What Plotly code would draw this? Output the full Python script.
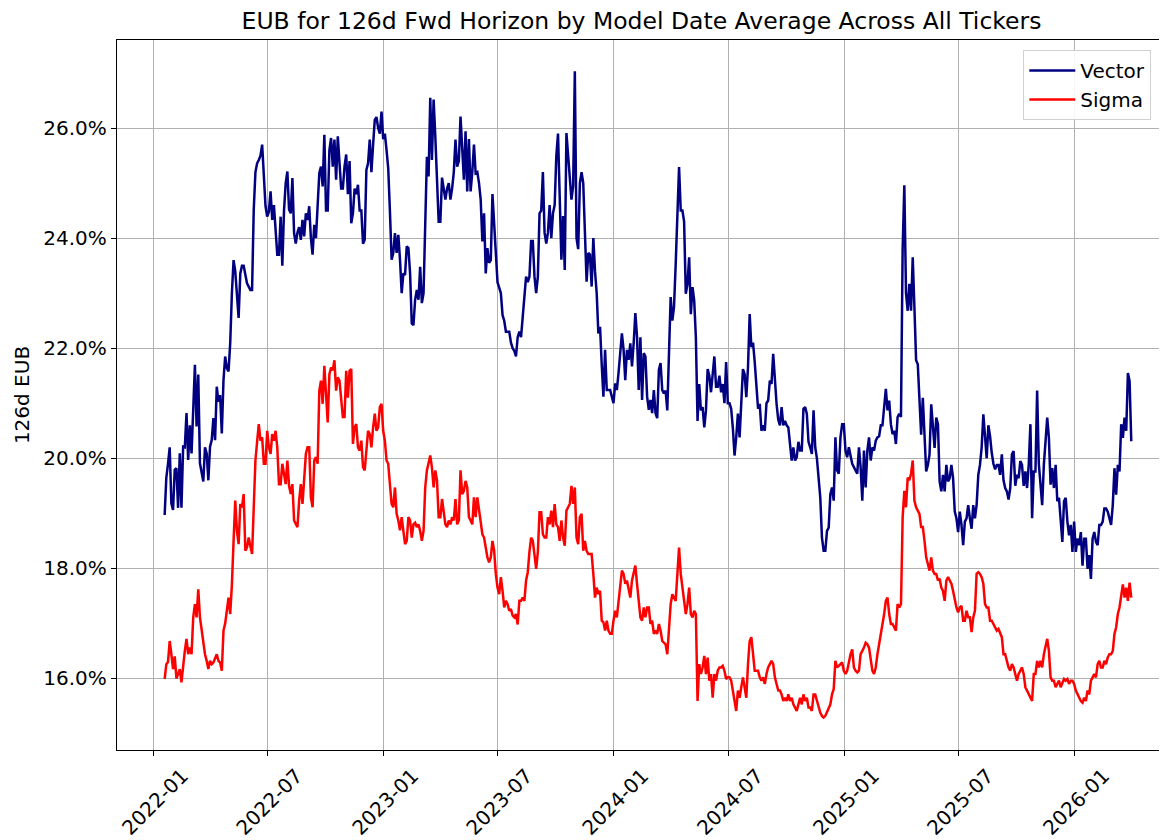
import pandas as pd
import plotly.graph_objects as go

# Values (percent) on a uniform ~64h grid
vector_a = [18.97,19.65,19.9,20.2,19.18,19.06,19.79,19.82,19.1,20.09,19.1,20.21,20.2,20.82,19.97,20.6,20.09,20.82,21.7,20.58,
            21.52,19.91,19.73,19.58,20.2,20.09,19.6,20.21,20.33,20.73,20.33,21.3,21.03,21.15,20.45,21.42,21.85,21.64,21.58,22.09,
            23.0,23.6,23.4,22.9,22.55,23.36,23.5,23.5,23.36,23.18,23.12,23.06,23.06,24.52,25.2,25.36,25.42,25.5,25.7,25.18,
            24.58,24.39,24.48,24.85,24.33,24.6,24.2,23.7,23.7,24.39,23.5,24.5,25.0,25.21,24.52,24.45,25.09,24.09,23.9,24.1,
            24.2,23.97,24.33,24.03,24.45,24.33,24.58,24.0,23.7,24.24,24.0,24.6,25.18,25.3,24.94,25.88,24.5,24.5,25.6,25.82,
            25.3,25.79,25.06,25.85,25.4,24.9,24.9,25.3,25.52,24.8,25.4,24.27,24.45,24.9,24.8,24.97,24.5,24.5,23.9,23.97,
            25.24,25.36,25.79,25.2,25.7,26.15,26.2,26.0,25.9,26.3,25.8,25.9,25.6,25.27,24.5,23.61,23.73,24.09,23.73,24.06,
            23.61,23.0,23.36,23.33,23.85,23.82,23.36,22.45]
vector_b = [22.42,22.88,23.06,22.88,23.48,22.82,23.0,24.52,25.48,25.12,26.55,25.42,26.52,25.85,24.94,24.3,24.3,25.1,24.9,24.7,
            24.9,25.0,24.7,24.9,25.2,25.79,25.3,25.4,26.21,25.55,25.06,25.94,24.85,25.8,24.85,25.2,25.7,25.18,25.2,25.0,
            24.7,23.94,24.45,23.36,23.82,23.55,23.6,24.8,24.2,23.6,23.2,23.1,23.0,22.6,22.5,22.3,22.3,22.3,22.1,22.0,
            21.95,21.85,22.2,22.3,22.2,22.6,22.95,23.3,23.2,23.3,23.95,23.95,23.3,23.0,23.3,24.45,24.5,25.2,24.1,23.9,
            24.1,24.6,24.0,24.45,24.6,25.5,25.9,24.45,23.61,24.4,23.42,25.91,25.48,25.0,24.7,24.95,27.03,24.0,23.8,25.0,
            25.2,25.0,23.85,23.21,23.73,23.7,23.12,24.0,23.4,23.0,22.27,22.39,21.7,21.12,21.97,21.24,21.24,21.24,21.12,21.0,
            21.36,21.24,21.55,21.97,22.27,21.97,21.42,21.97,21.79,22.09,21.67,22.09,22.64,22.21,21.24,22.2,21.06,21.91,21.85,21.12,
            20.88,21.06,20.82,21.24,20.82,20.73,21.61,21.73,21.24,21.18]
vector_c = [21.23,20.87,21.96,22.93,22.5,22.75,23.53,24.5,25.29,24.5,24.5,24.3,22.99,23.17,23.65,22.62,23.11,22.87,22.2,20.68,
            21.35,20.87,20.93,20.56,20.87,21.62,21.5,21.2,21.5,21.85,21.3,21.3,21.5,21.2,21.35,21.0,21.75,21.0,21.0,20.9,
            20.55,20.05,20.38,20.81,20.38,20.99,21.62,21.53,21.11,21.65,22.62,22.02,22.1,21.75,21.35,20.9,20.99,20.5,20.6,20.5,
            21.0,21.05,21.41,21.35,21.9,21.35,20.99,20.7,20.6,20.93,20.6,20.68,20.6,20.56,20.2,19.96,20.2,19.96,20.02,20.3,
            20.14,20.14,20.9,20.93,20.81,20.3,20.2,20.08,20.87,20.2,20.0,19.59,19.29,18.56,18.32,18.32,18.68,18.74,19.35,19.47,
            19.23,20.38,19.78,19.72,20.38,20.62,20.62,20.14,20.02,20.2,20.02,19.9,19.84,19.78,19.72,20.2,19.84,19.23,20.14,19.47,
            20.14,20.38,19.96,20.2,20.14,20.32,20.38,20.4,20.6,20.6,20.9,21.26,20.87,21.05,20.62,20.44,20.5,20.26,20.75,20.81,
            20.75,23.8,24.96,23.0,22.68,23.17,22.68,23.65,22.75,21.78]
vector_d = [21.71,20.9,20.43,21.1,20.37,19.76,19.88,20.07,20.98,20.49,20.19,20.74,20.62,19.58,19.4,19.7,19.4,19.88,19.58,19.64,
            19.88,19.64,19.03,18.91,18.66,19.03,18.79,18.42,18.85,18.91,19.15,18.91,18.72,19.15,18.91,19.15,19.7,19.88,20.2,20.8,
            20.4,20.0,20.6,20.4,20.1,19.9,19.8,19.88,19.88,19.7,20.07,19.6,19.46,19.4,19.25,19.46,20.07,20.13,19.5,19.7,
            19.64,19.95,19.88,19.5,19.76,19.46,19.88,20.62,18.91,19.76,19.76,21.23,19.9,19.46,19.15,19.88,20.37,20.74,20.37,19.52,
            19.82,19.46,19.88,19.22,19.28,18.91,18.48,19.22,19.28,18.85,18.6,18.79,18.3,18.85,18.3,18.54,18.42,18.66,18.05,18.54,
            18.54,17.99,18.24,17.81,18.54,18.66,18.48,18.42,18.79,18.79,18.85,19.09,19.09,19.03,18.91,18.79,19.15,19.82,19.34,19.88,
            19.76,20.62,20.37,20.74,20.5,21.55,21.4,20.31]

sigma_a = [15.99,16.26,16.3,16.68,16.44,16.17,16.4,16.0,16.08,16.17,15.93,16.26,16.5,16.72,16.44,16.56,16.44,17.11,17.35,17.11,
           17.62,17.11,16.87,16.62,16.44,16.32,16.17,16.32,16.26,16.29,16.38,16.44,16.32,16.29,16.14,16.87,17.0,17.29,17.47,17.17,
           17.7,18.5,19.23,18.68,18.44,19.17,19.11,19.35,18.32,18.38,18.56,18.4,18.26,19.11,19.96,20.3,20.62,20.32,20.38,19.9,
           19.9,20.5,20.2,20.08,20.44,20.32,20.5,20.2,19.53,19.53,19.9,19.72,19.53,19.96,19.5,19.35,19.53,18.87,18.81,18.75,
           19.23,19.53,19.17,19.72,20.08,20.2,20.2,19.29,19.11,19.96,20.02,19.9,21.23,21.41,20.99,21.68,21.23,20.65,21.53,21.65,
           21.6,21.78,21.23,21.47,21.41,20.99,20.75,20.75,21.59,21.1,21.59,21.62,20.26,20.56,20.62,20.2,20.14,20.32,19.84,19.78,
           20.2,20.5,20.44,20.2,20.56,20.81,20.5,20.56,20.93,20.99,20.5,20.32,19.96,19.9,19.53,19.17,19.11,19.47,18.99,18.87,
           18.69,18.93,18.68,18.44,18.5,18.93,18.87,18.56]
sigma_b = [18.8,18.83,18.75,18.8,18.68,18.5,18.68,19.47,19.78,19.9,20.05,19.83,19.47,19.78,19.6,18.93,18.93,19.26,18.99,18.8,
           18.75,18.87,18.8,18.93,18.87,19.26,18.8,18.87,19.78,19.35,19.41,19.59,19.47,18.93,18.87,18.8,19.29,18.93,19.29,19.05,
           18.8,18.62,18.56,18.38,18.2,18.11,18.2,18.5,18.32,17.9,17.65,17.53,17.84,17.59,17.29,17.41,17.35,17.23,17.26,17.14,
           17.11,17.17,16.98,17.41,17.41,17.47,17.41,17.78,17.93,18.3,18.56,18.5,18.2,17.99,18.3,19.02,19.02,18.62,18.56,18.56,
           18.93,18.8,19.05,18.75,19.17,18.8,18.75,18.5,18.87,18.56,18.41,19.05,19.11,19.17,19.5,19.17,19.47,18.56,18.44,18.93,
           18.99,18.32,18.5,18.32,18.26,18.26,18.26,17.9,17.47,17.65,17.53,17.59,17.05,17.02,16.87,17.05,16.87,16.81,16.81,17.05,
           17.23,17.11,17.41,17.65,17.96,17.9,17.72,17.78,17.59,17.47,17.78,17.9,18.05,17.72,17.47,17.11,17.05,17.29,17.11,17.29,
           17.29,16.99,17.05,16.81,16.87,16.81,16.99,16.87,16.68,16.65]
sigma_c = [16.62,16.44,16.99,17.35,17.53,17.47,17.41,17.9,18.38,17.9,17.65,17.41,17.17,17.35,17.65,17.17,17.11,17.23,17.17,15.59,
           16.26,16.08,16.2,16.41,16.08,16.38,15.96,16.08,15.65,16.08,15.96,16.14,16.2,16.2,16.23,16.14,15.99,16.02,16.02,15.96,
           15.78,15.65,15.41,15.78,15.65,15.84,16.02,15.84,15.65,16.26,16.68,16.75,16.5,16.14,16.14,16.14,16.02,15.96,16.02,15.9,
           16.08,16.2,16.26,16.32,16.26,16.02,15.9,15.78,15.78,15.71,15.59,15.65,15.59,15.71,15.59,15.65,15.53,15.47,15.41,15.53,
           15.65,15.53,15.71,15.59,15.65,15.47,15.47,15.41,15.71,15.71,15.59,15.47,15.38,15.32,15.29,15.32,15.38,15.47,15.53,15.71,
           15.81,16.32,16.2,16.23,16.26,16.29,16.14,16.08,16.14,16.32,16.44,16.53,16.2,16.14,16.11,16.14,16.44,16.5,16.56,16.65,
           16.62,16.56,16.38,16.14,16.08,16.2,16.44,16.62,16.81,16.93,17.17,17.41,17.47,17.17,16.99,16.99,16.93,16.87,17.35,17.29,
           17.35,18.93,19.41,19.11,19.65,19.6,19.72,19.96,19.23,19.11]
sigma_d = [19.05,18.99,18.75,18.75,18.5,18.2,18.08,17.96,18.2,17.96,17.9,17.9,17.78,17.81,17.65,17.59,17.41,17.78,17.84,17.78,
           17.72,17.59,17.41,17.29,17.2,17.29,17.32,17.05,17.05,17.23,17.11,17.11,16.84,17.11,17.23,17.9,17.93,17.9,17.84,17.72,
           17.35,17.29,17.29,17.05,17.05,16.99,16.93,16.87,16.9,16.81,16.75,16.44,16.44,16.32,16.2,16.14,16.26,16.2,16.08,15.96,
           16.08,16.14,16.2,16.08,15.84,15.78,15.71,15.65,15.59,16.08,16.08,16.32,16.2,16.32,16.2,16.44,16.56,16.72,16.5,16.02,
           15.96,15.96,15.84,15.9,15.96,15.84,15.9,15.99,15.96,15.99,15.9,15.96,15.96,15.9,15.78,15.71,15.65,15.59,15.56,15.65,
           15.59,15.78,15.71,15.96,16.02,16.08,16.02,16.26,16.32,16.2,16.2,16.32,16.26,16.38,16.44,16.44,16.5,16.81,16.93,17.17,
           17.29,17.53,17.71,17.47,17.65,17.41,17.74,17.47]

vector = vector_a + vector_b + vector_c + vector_d
sigma = sigma_a + sigma_b + sigma_c + sigma_d
n = min(len(vector), len(sigma))
dates = pd.date_range("2022-01-18 14:00", periods=n, freq="64h")

tick_dates = ["2022-01-01", "2022-07-01", "2023-01-01", "2023-07-01", "2024-01-01",
              "2024-07-01", "2025-01-01", "2025-07-01", "2026-01-01"]
tick_labels = ["2022-01", "2022-07", "2023-01", "2023-07", "2024-01",
               "2024-07", "2025-01", "2025-07", "2026-01"]
y_ticks = [16, 18, 20, 22, 24, 26]
y_labels = ["16.0%", "18.0%", "20.0%", "22.0%", "24.0%", "26.0%"]

fig = go.Figure()
fig.add_trace(go.Scatter(x=dates, y=vector[:n], mode="lines", name="Vector",
                         line=dict(color="#000080", width=2.5)))
fig.add_trace(go.Scatter(x=dates, y=sigma[:n], mode="lines", name="Sigma",
                         line=dict(color="#ff0000", width=2.5)))

font = "DejaVu Sans, Liberation Sans, sans-serif"
fig.update_layout(
    width=1167, height=840,
    margin=dict(l=109, r=9, t=32, b=98, autoexpand=False),
    paper_bgcolor="white", plot_bgcolor="white",
    font=dict(family=font, size=20, color="black"),
    title=dict(text="EUB for 126d Fwd Horizon by Model Date Average Across All Tickers",
               x=0.5, xref="paper", xanchor="center",
               y=0.9845, yref="container", yanchor="middle",
               font=dict(size=23.5, family=font)),
    legend=dict(x=0.986, y=0.986, xanchor="right", yanchor="top",
                bgcolor="rgba(255,255,255,0.9)", bordercolor="#d0d0d0", borderwidth=1,
                font=dict(size=20, family=font), tracegroupgap=0, itemwidth=46),
    showlegend=True,
)
fig.update_xaxes(
    range=["2021-11-04", "2026-05-26"], automargin=False,
    tickvals=tick_dates, ticktext=tick_labels, tickangle=-45, ticklabelshift=29,
    showgrid=True, gridcolor="#b0b0b0", gridwidth=1,
    showline=True, linecolor="black", linewidth=1.3, mirror=True,
    ticks="outside", ticklen=5, tickcolor="black",
    tickfont=dict(size=20), zeroline=False,
)
fig.update_yaxes(
    range=[14.70, 27.60], automargin=False,
    tickvals=y_ticks, ticktext=y_labels,
    title=dict(text="126d EUB", font=dict(size=20), standoff=8),
    showgrid=True, gridcolor="#b0b0b0", gridwidth=1,
    showline=True, linecolor="black", linewidth=1.3, mirror=True,
    ticks="outside", ticklen=5, tickcolor="black",
    tickfont=dict(size=20), zeroline=False,
)

fig.write_html("out.html")
